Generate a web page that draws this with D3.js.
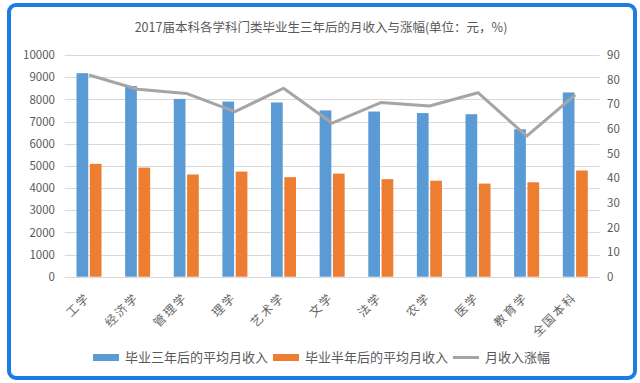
<!DOCTYPE html>
<html><head><meta charset="utf-8">
<script src="https://cdn.jsdelivr.net/npm/d3@7"></script>
<style>body{margin:0;background:#fff}svg{display:block}text{font-family:"Noto Sans CJK SC","Noto Sans",sans-serif}</style>
</head><body>
<svg id="c" width="640" height="383"></svg>
<script>
const categories = ["工学","经济学","管理学","理学","艺术学","文学","法学","农学","医学","教育学","全国本科"];
const income3yr = [9180,8600,8020,7900,7860,7500,7450,7380,7330,6650,8310];
const income6mo = [5090,4920,4610,4740,4490,4650,4400,4330,4200,4260,4790];
const growth = [81.9,76.1,74.4,67.0,76.5,62.3,70.7,69.3,74.7,57.1,73.8];
const leftTicks = [0,1000,2000,3000,4000,5000,6000,7000,8000,9000,10000];
const rightTicks = [0,10,20,30,40,50,60,70,80,90];
const seriesNames = ["毕业三年后的平均月收入","毕业半年后的平均月收入","月收入涨幅"];
const title = "2017届本科各学科门类毕业生三年后的月收入与涨幅(单位：元，%)";

const svg = d3.select("#c");
const colors = ["#5b9bd5","#ed7d31","#a5a5a5"];
const txt = "#595959";

// frame
svg.append("rect").attr("x",9).attr("y",5).attr("width",626).attr("height",373)
  .attr("rx",7).attr("fill","#fff").attr("stroke","#1c7ce6").attr("stroke-width",4);

svg.append("text").attr("x",321).attr("y",32).attr("text-anchor","middle")
  .attr("font-size",12.5).attr("fill",txt).text(title);

const x = d3.scaleBand().domain(categories).range([64.7,599.6]).paddingInner(0.486).paddingOuter(0.243);
const sub = d3.scaleBand().domain([0,1]).range([0,x.bandwidth()]).paddingInner(0.12);
const yL = d3.scaleLinear().domain([0,10000]).range([276.7,55]);
const yR = d3.scaleLinear().domain([0,90]).range([276.7,55]);

// gridlines
svg.append("g").selectAll("line").data(leftTicks).join("line")
  .attr("x1",64.7).attr("x2",599.6).attr("y1",d=>Math.round(yL(d))+0.5).attr("y2",d=>Math.round(yL(d))+0.5)
  .attr("stroke","#d9d9d9").attr("stroke-width",1);

// left axis
const gL = svg.append("g").attr("transform","translate(62,0)")
  .call(d3.axisLeft(yL).tickValues(leftTicks).tickSize(0).tickPadding(7).tickFormat(d3.format("d")));
gL.select(".domain").remove();
gL.selectAll("text").attr("font-size",11.5).attr("fill",txt).attr("font-family",'"Liberation Sans",sans-serif');

const gR = svg.append("g").attr("transform","translate(602,0)")
  .call(d3.axisRight(yR).tickValues(rightTicks).tickSize(0).tickPadding(5).tickFormat(d3.format("d")));
gR.select(".domain").remove();
gR.selectAll("text").attr("font-size",11.5).attr("fill",txt).attr("font-family",'"Liberation Sans",sans-serif');

// bars
const data = categories.map((c,i)=>({c, v:[income3yr[i],income6mo[i]]}));
const gb = svg.append("g");
data.forEach(d=>{
  d.v.forEach((v,j)=>{
    gb.append("rect").attr("x",x(d.c)+sub(j)).attr("width",sub.bandwidth())
      .attr("y",yL(v)).attr("height",yL(0)-yL(v)).attr("fill",colors[j]);
  });
});

// line
const line = d3.line().x((d,i)=>x(categories[i])+x.bandwidth()/2).y(d=>yR(d));
svg.append("path").datum(growth).attr("d",line).attr("fill","none")
  .attr("stroke",colors[2]).attr("stroke-width",3).attr("stroke-linejoin","round");

// x labels
svg.append("g").selectAll("text").data(categories).join("text")
  .attr("transform",d=>`translate(${x(d)+x.bandwidth()/2+2},${298}) rotate(-45)`)
  .attr("text-anchor","end").attr("font-size",12).attr("letter-spacing",2)
  .attr("fill","#666").text(d=>d);

// legend
const lg = svg.append("g");
const items = [{x:93,t:seriesNames[0],k:0},{x:273,t:seriesNames[1],k:1},{x:453,t:seriesNames[2],k:2}];
items.forEach(it=>{
  if(it.k<2) lg.append("rect").attr("x",it.x).attr("y",354).attr("width",26).attr("height",7).attr("fill",colors[it.k]);
  else lg.append("line").attr("x1",it.x).attr("x2",it.x+26).attr("y1",357.5).attr("y2",357.5).attr("stroke",colors[2]).attr("stroke-width",3);
  lg.append("text").attr("x",it.x+32).attr("y",362).attr("font-size",13).attr("fill",txt).text(it.t);
});
</script>
</body></html>
